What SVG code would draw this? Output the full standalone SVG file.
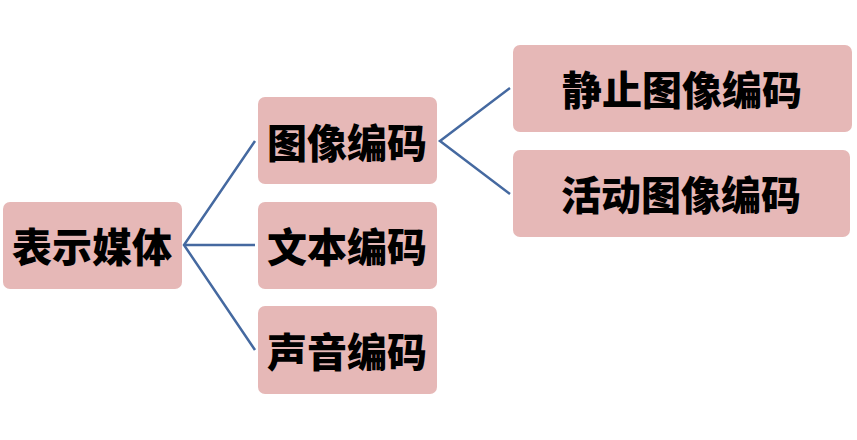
<svg xmlns="http://www.w3.org/2000/svg" width="857" height="440" viewBox="0 0 857 440">
<style>
.box{fill:#E6B8B7;}
.t{font-family:"Noto Sans CJK SC","Noto Sans",sans-serif;font-weight:900;font-size:40px;fill:#000;text-anchor:middle;dominant-baseline:central;}
.c{stroke:#4569A0;stroke-width:2.5;fill:none;}
</style>
<rect width="857" height="440" fill="#fff"/>
<g id="connectors">
<polyline class="c" points="255,141 184,245 255,350"/>
<line class="c" x1="184" y1="245" x2="255" y2="245"/>
<polyline class="c" points="510,88 440,141 510,194"/>
</g>
<g id="n-root"><rect class="box" x="3" y="202" width="179" height="87" rx="7"/><text class="t" x="92" y="245">表示媒体</text></g>
<g id="n-image"><rect class="box" x="258" y="97" width="179" height="87" rx="7"/><text class="t" x="347" y="141">图像编码</text></g>
<g id="n-text"><rect class="box" x="258" y="202" width="179" height="87" rx="7"/><text class="t" x="347" y="245">文本编码</text></g>
<g id="n-sound"><rect class="box" x="258" y="306" width="179" height="88" rx="7"/><text class="t" x="347" y="350">声音编码</text></g>
<g id="n-still"><rect class="box" x="513" y="45" width="339" height="87" rx="7"/><text class="t" x="682" y="88">静止图像编码</text></g>
<g id="n-motion"><rect class="box" x="513" y="150" width="337" height="87" rx="7"/><text class="t" x="681" y="193">活动图像编码</text></g>
</svg>
